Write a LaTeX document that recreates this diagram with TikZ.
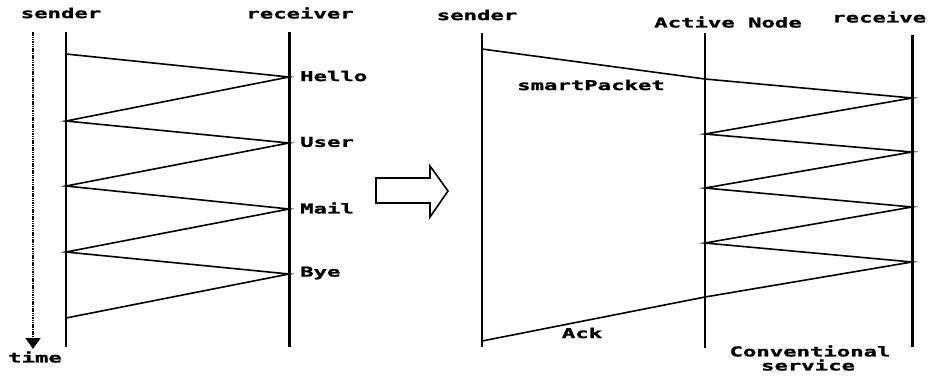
\documentclass[tikz,border=0pt]{standalone}
\usepackage{fontspec}
\newfontfamily\pix[FakeStretch=1.65, BoldFeatures={FakeBold=1.6}]{DejaVu Sans Mono}
\usetikzlibrary{arrows.meta}
\begin{document}
\begin{tikzpicture}[x=1pt,y=-1pt,
  lifeline/.style={line width=2pt},
  lifethick/.style={line width=3pt},
  msg/.style={line width=1.6pt},
  lbl/.style={font=\pix\bfseries\fontsize{13.5}{14}\selectfont, inner sep=0pt},
  timeaxis/.style={line width=1.4pt, dash pattern=on 1.5pt off 0.8pt, -{Triangle[width=15pt,length=11pt]}},
  blockarrow/.style={line width=1.6pt, line join=miter}
]
\useasboundingbox (0,0) rectangle (934,376);

% ---------- left panel ----------
\node[lbl] (lsend) at (61,13) {sender};
\node[lbl] (lrecv) at (300,13) {receiver};
\node[lbl] (ltime) at (35,357) {time};

\coordinate (tA) at (33,32);
\coordinate (tB) at (33,349);
\draw[timeaxis] (tA) -- (tB);

\coordinate (lsT) at (66,32);  \coordinate (lsB) at (66,347);
\coordinate (lrT) at (289,32); \coordinate (lrB) at (289,347);
\draw[lifeline] (lsT) -- (lsB);
\draw[lifethick] (lrT) -- (lrB);

\coordinate (s1) at (66,54);  \coordinate (r1) at (289,77);
\coordinate (s2) at (66,121); \coordinate (r2) at (289,143);
\coordinate (s3) at (66,186); \coordinate (r3) at (289,209);
\coordinate (s4) at (66,252); \coordinate (r4) at (289,274);
\coordinate (s5) at (66,318);
\draw[msg] (s1) -- (r1) -- (s2) -- (r2) -- (s3) -- (r3) -- (s4) -- (r4) -- (s5);

\node[lbl, anchor=west] (hello) at (300,76) {Hello};
\node[lbl, anchor=west] (user)  at (300,142) {User};
\node[lbl, anchor=west] (mail)  at (300,208) {Mail};
\node[lbl, anchor=west] (bye)   at (300,273) {Bye};

% ---------- block arrow ----------
\draw[blockarrow] (376,178) -- (430,178) -- (430,166) -- (448,191)
  -- (430,217) -- (430,203) -- (376,203) -- cycle;

% ---------- right panel ----------
\node[lbl] (rsend) at (477,15) {sender};
\node[lbl] (anode) at (728,22) {Active Node};
\node[lbl, anchor=west] (rrecv) at (832,17) {receive};

\coordinate (rsT) at (482,33);  \coordinate (rsB) at (482,347);
\coordinate (aT)  at (705,33);  \coordinate (aB)  at (705,348);
\coordinate (rrT) at (912,35);  \coordinate (rrB) at (912,347);
\draw[lifeline] (rsT) -- (rsB);
\draw[lifeline] (aT) -- (aB);
\draw[lifethick] (rrT) -- (rrB);

\coordinate (p0) at (482,49);
\coordinate (a0) at (705,79);
\coordinate (q1) at (912,98);
\coordinate (a1) at (705,134);
\coordinate (q2) at (912,152);
\coordinate (a2) at (705,188);
\coordinate (q3) at (912,207);
\coordinate (a3) at (705,243);
\coordinate (q4) at (912,262);
\coordinate (a4) at (705,297);
\coordinate (p1) at (482,341);
\draw[msg] (p0) -- (a0) -- (q1) -- (a1) -- (q2) -- (a2) -- (q3) -- (a3) -- (q4) -- (a4) -- (p1);

\node[lbl] (smart) at (591,85) {smartPacket};
\node[lbl] (ack) at (582,333) {Ack};
\node[lbl] (conv) at (810,351) {Conventional};
\node[lbl] (serv) at (808,365) {service};
\end{tikzpicture}
\end{document}
